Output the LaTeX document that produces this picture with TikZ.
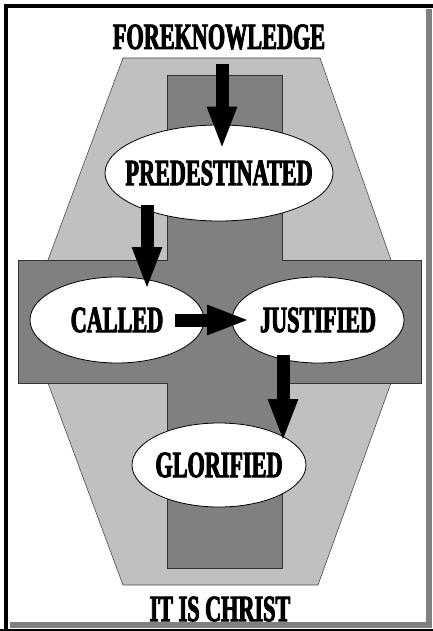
\documentclass[tikz,border=0pt]{standalone}
\usepackage{fontspec}
\usepackage{tikz}
\usetikzlibrary{arrows.meta,calc,shapes.geometric}
\newfontfamily\signfont[FakeStretch=0.6,FakeBold=2.5]{Liberation Serif}
\definecolor{CrossLight}{HTML}{C0C0C0}
\definecolor{CrossDark}{HTML}{808080}

\begin{document}
\begin{tikzpicture}[
  x=1pt, y=-1pt,
  oval/.style={ellipse, draw=black, line width=0.8pt, fill=white, inner sep=0pt},
  lbl/.style={font=\signfont\bfseries\fontsize{37}{37}\selectfont, inner sep=0pt},
  flow/.style={-{Triangle[width=27pt,length=43pt]}, line width=13pt}
]
  \useasboundingbox (0,0) rectangle (433,631);
  \draw[black!70, line width=0.6pt, fill=CrossLight] (123,58) -- (320,58) -- (391,260) -- (391,383)
    -- (318,585) -- (123,585) -- (48,383) -- (48,260) -- cycle;
  \draw[black!80, line width=0.6pt, fill=CrossDark] (167,75) -- (282,75) -- (282,260) -- (421,260)
    -- (421,383) -- (282,383) -- (282,568) -- (167,568) -- (167,383) -- (18,383) -- (18,260)
    -- (167,260) -- cycle;

  \node[lbl] (fore) at (219,37) {FOREKNOWLEDGE};
  \node[oval, minimum width=228pt, minimum height=96pt] (pre) at (219,173) {};
  \node[oval, minimum width=174pt, minimum height=86pt] (called) at (117,320) {};
  \node[oval, minimum width=172pt, minimum height=86pt] (just) at (318,320) {};
  \node[oval, minimum width=174pt, minimum height=84pt] (glor) at (219,465) {};
  \node[lbl] (pretxt) at (pre) {PREDESTINATED};
  \node[lbl] (calledtxt) at (called) {CALLED};
  \node[lbl] (justtxt) at (just) {JUSTIFIED};
  \node[lbl] (glortxt) at (glor) {GLORIFIED};
  \node[lbl] (christ) at (220,609) {IT IS CHRIST};

  \draw[flow] ($(fore.south)+(3,14)$) -- ($(pre.north)+(3,25)$);
  \draw[flow] ($(pre.center)+(-72,32)$) -- ($(called.center)+(30,-30)$);
  \draw[flow] ($(called.center)+(58,0)$) -- ($(just.center)+(-68,0)$);
  \draw[flow] ($(just.center)+(-35,35)$) -- ($(glor.center)+(64,-23)$);

  \draw[line width=4pt] (6,631) -- (6,6) -- (433,6);
  \draw[CrossDark, line width=6pt] (10,625) -- (429,625) -- (429,9);
  \draw[line width=2pt] (0,630) -- (433,630);
\end{tikzpicture}
\end{document}
